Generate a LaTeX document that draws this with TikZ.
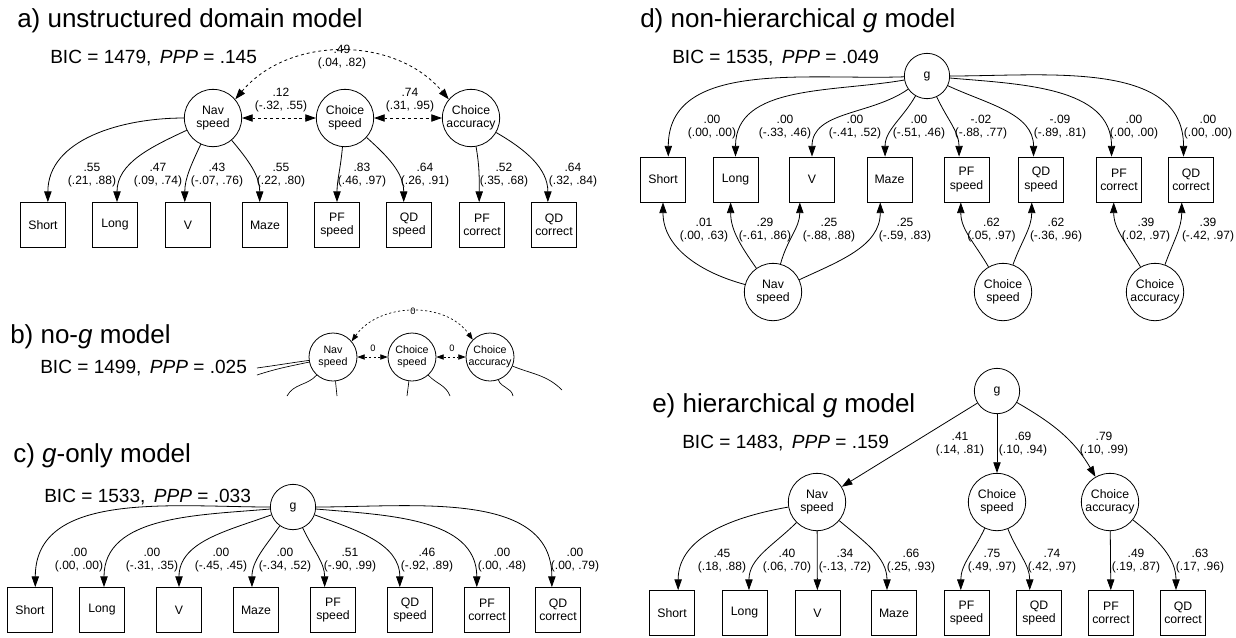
\documentclass[tikz,border=0pt]{standalone}
\usepackage{fontspec}
\setmainfont{Liberation Sans}
\usetikzlibrary{arrows.meta}

\begin{document}
\begin{tikzpicture}[x=0.75pt,y=-0.75pt,
	lat_node/.style={circle,draw,line width=0.6pt,minimum size=43pt,inner sep=0pt,align=center,font=\fontsize{9.2}{10}\selectfont},
	lat_small/.style={circle,draw,line width=0.6pt,minimum size=36pt,inner sep=0pt,align=center,font=\fontsize{8}{8.8}\selectfont},
	g_node/.style={circle,draw,line width=0.6pt,minimum size=34pt,inner sep=0pt,font=\fontsize{9.2}{10}\selectfont},
	obs_node/.style={rectangle,draw,line width=0.6pt,minimum width=33.75pt,minimum height=33.75pt,inner sep=0pt,align=center,font=\fontsize{9.2}{10}\selectfont},
	est_node/.style={align=center,inner sep=0pt,font=\fontsize{9}{10}\selectfont},
	zero_node/.style={inner sep=0pt,font=\fontsize{7}{8}\selectfont},
	title_node/.style={anchor=base west,inner sep=0pt,font=\fontsize{19.5}{22}\selectfont},
	fit_node/.style={anchor=base west,inner sep=0pt,font=\fontsize{14.3}{16}\selectfont},
	load_edge/.style={line width=0.6pt,-{Triangle[length=8pt,width=5.5pt]}},
	cov_edge/.style={line width=0.6pt,dash pattern=on 2.2pt off 2.2pt,{Triangle[length=8pt,width=5.5pt]}-{Triangle[length=8pt,width=5.5pt]}},
	cov_small/.style={line width=0.5pt,dash pattern=on 1.6pt off 1.8pt,{Triangle[length=5.5pt,width=4pt]}-{Triangle[length=5.5pt,width=4pt]}},
	cut_edge/.style={line width=0.5pt}]
	
	\useasboundingbox (0,0) rectangle (1236,637);
	
	% a) unstructured domain model
	\node[title_node] (aT) at (17,27) {a) unstructured domain model};
	\node[fit_node] (aF) at (50,63) {BIC = 1479, \,\textit{PPP} = .145};
	
	\node[lat_node] (aNav) at (213,118) {Nav\\speed};
	\node[lat_node] (aCs) at (345,118) {Choice\\speed};
	\node[lat_node] (aCa) at (471,118) {Choice\\accuracy};
	
	\node[obs_node] (a1) at (43,225) {Short};
	\node[obs_node] (a2) at (115,225) {Long};
	\node[obs_node] (a3) at (188,225) {V};
	\node[obs_node] (a4) at (265,225) {Maze};
	\node[obs_node] (a5) at (337,225) {PF\\speed};
	\node[obs_node] (a6) at (409,225) {QD\\speed};
	\node[obs_node] (a7) at (482,225) {PF\\correct};
	\node[obs_node] (a8) at (554,225) {QD\\correct};
	
	\draw[load_edge] (aNav) to[out=180,in=90] (a1.78);
	\draw[load_edge] (aNav) to[out=205,in=90] (a2.85);
	\draw[load_edge] (aNav) to[out=245,in=90] (a3.98);
	\draw[load_edge] (aNav) to[out=310,in=90] (a4.103);
	\draw[load_edge] (aCs) to[out=265,in=90] (a5.90);
	\draw[load_edge] (aCs) to[out=318,in=90] (a6.103);
	\draw[load_edge] (aCa) to[out=280,in=90] (a7.97);
	\draw[load_edge] (aCa) to[out=330,in=90] (a8.105);
	
	\draw[cov_edge] (aNav) -- (aCs);
	\draw[cov_edge] (aCs) -- (aCa);
	\draw[cov_edge] (aNav.40) to[out=50,in=130] (aCa.140);
	
	\node[est_node] (aL1) at (92,175) {.55\\(.21, .88)};
	\node[est_node] (aL2) at (158,175) {.47\\(.09, .74)};
	\node[est_node] (aL3) at (217,175) {.43\\(-.07, .76)};
	\node[est_node] (aL4) at (281,175) {.55\\(.22, .80)};
	\node[est_node] (aL5) at (362,175) {.83\\(.46, .97)};
	\node[est_node] (aL6) at (425,175) {.64\\(.26, .91)};
	\node[est_node] (aL7) at (504,175) {.52\\(.35, .68)};
	\node[est_node] (aL8) at (573,175) {.64\\(.32, .84)};
	\node[est_node] (aC1) at (281,100) {.12\\(-.32, .55)};
	\node[est_node] (aC2) at (410,100) {.74\\(.31, .95)};
	\node[est_node] (aC3) at (342,57) {.49\\(.04, .82)};
	
	% b) no-g model
	\node[title_node] (bT) at (10,343) {b) no-\textit{g} model};
	\node[fit_node] (bF) at (40,373) {BIC = 1499, \,\textit{PPP} = .025};
	
	\node[lat_small] (bNav) at (333,357) {Nav\\speed};
	\node[lat_small] (bCs) at (412,357) {Choice\\speed};
	\node[lat_small] (bCa) at (490,357) {Choice\\accuracy};
	
	\coordinate (bE1) at (257,368);
	\coordinate (bE2) at (257,375);
	\coordinate (bE3) at (287,396);
	\coordinate (bE4) at (337,396);
	\coordinate (bE5) at (407,396);
	\coordinate (bE6) at (450,396);
	\coordinate (bE7) at (513,396);
	\coordinate (bE8) at (562,390);
	
	\draw[cut_edge] (bNav) to[out=188,in=8] (bE1);
	\draw[cut_edge] (bNav) to[out=192,in=18] (bE2);
	\draw[cut_edge] (bNav) to[out=228,in=62] (bE3);
	\draw[cut_edge] (bNav) -- (bE4);
	\draw[cut_edge] (bCs) -- (bE5);
	\draw[cut_edge] (bCs) to[out=312,in=110] (bE6);
	\draw[cut_edge] (bCa) to[out=290,in=100] (bE7);
	\draw[cut_edge] (bCa) to[out=338,in=135] (bE8);
	
	\draw[cov_small] (bNav) -- (bCs);
	\draw[cov_small] (bCs) -- (bCa);
	\draw[cov_small] (bNav.40) to[out=55,in=125] (bCa.135);
	
	\node[zero_node] (bZ1) at (373,348) {0};
	\node[zero_node] (bZ2) at (452,348) {0};
	\node[zero_node] (bZ3) at (413,311) {0};
	
	% c) g-only model
	\node[title_node] (cT) at (13,462) {c) \textit{g}-only model};
	\node[fit_node] (cF) at (44,502) {BIC = 1533, \,\textit{PPP} = .033};
	
	\node[g_node] (cG) at (293,507) {g};
	
	\node[obs_node] (c1) at (30,610) {Short};
	\node[obs_node] (c2) at (102,610) {Long};
	\node[obs_node] (c3) at (179,610) {V};
	\node[obs_node] (c4) at (256,610) {Maze};
	\node[obs_node] (c5) at (333,610) {PF\\speed};
	\node[obs_node] (c6) at (410,610) {QD\\speed};
	\node[obs_node] (c7) at (487,610) {PF\\correct};
	\node[obs_node] (c8) at (558,610) {QD\\correct};
	
	\draw[load_edge] (cG) to[out=180,in=90] (c1.77);
	\draw[load_edge] (cG) to[out=185,in=90] (c2.85);
	\draw[load_edge] (cG) to[out=200,in=90] (c3.90);
	\draw[load_edge] (cG) to[out=235,in=90] (c4.100);
	\draw[load_edge] (cG) to[out=295,in=90] (c5.110);
	\draw[load_edge] (cG) to[out=340,in=90] (c6.114);
	\draw[load_edge] (cG) to[out=355,in=90] (c7.114);
	\draw[load_edge] (cG) to[out=0,in=90] (c8.105);
	
	\node[est_node] (cL1) at (79,560) {.00\\(.00, .00)};
	\node[est_node] (cL2) at (152,560) {.00\\(-.31, .35)};
	\node[est_node] (cL3) at (221,560) {.00\\(-.45, .45)};
	\node[est_node] (cL4) at (285,560) {.00\\(-.34, .52)};
	\node[est_node] (cL5) at (350,560) {.51\\(-.90, .99)};
	\node[est_node] (cL6) at (427,560) {.46\\(-.92, .89)};
	\node[est_node] (cL7) at (502,560) {.00\\(.00, .48)};
	\node[est_node] (cL8) at (575,560) {.00\\(.00, .79)};
	
	% d) non-hierarchical g model
	\node[title_node] (dT) at (640,27) {d) non-hierarchical \textit{g} model};
	\node[fit_node] (dF) at (672,63) {BIC = 1535, \,\textit{PPP} = .049};
	
	\node[g_node] (dG) at (927,76) {g};
	
	\node[obs_node] (d1) at (663,179.5) {Short};
	\node[obs_node] (d2) at (735.5,179.5) {Long};
	\node[obs_node] (d3) at (812,179.5) {V};
	\node[obs_node] (d4) at (889.5,179.5) {Maze};
	\node[obs_node] (d5) at (966.5,179.5) {PF\\speed};
	\node[obs_node] (d6) at (1041,179.5) {QD\\speed};
	\node[obs_node] (d7) at (1119,179.5) {PF\\correct};
	\node[obs_node] (d8) at (1191,179.5) {QD\\correct};
	
	\node[lat_node] (dNav) at (773,292) {Nav\\speed};
	\node[lat_node] (dCs) at (1003,292) {Choice\\speed};
	\node[lat_node] (dCa) at (1155,292) {Choice\\accuracy};
	
	\draw[load_edge] (dG) to[out=182,in=90] (d1.77);
	\draw[load_edge] (dG) to[out=190,in=90] (d2.90);
	\draw[load_edge] (dG) to[out=215,in=90] (d3.90);
	\draw[load_edge] (dG) to[out=240,in=90] (d4.101);
	\draw[load_edge] (dG) to[out=295,in=90] (d5.108);
	\draw[load_edge] (dG) to[out=335,in=90] (d6.108);
	\draw[load_edge] (dG) to[out=355,in=90] (d7.108);
	\draw[load_edge] (dG) to[out=0,in=90] (d8.108);
	
	\draw[load_edge] (dNav) to[out=165,in=270] (d1.270);
	\draw[load_edge] (dNav) to[out=125,in=270] (d2.258);
	\draw[load_edge] (dNav) to[out=75,in=270] (d3.242);
	\draw[load_edge] (dNav) to[out=25,in=270] (d4.248);
	\draw[load_edge] (dCs) to[out=120,in=270] (d5.256);
	\draw[load_edge] (dCs) to[out=70,in=270] (d6.248);
	\draw[load_edge] (dCa) to[out=120,in=270] (d7.257);
	\draw[load_edge] (dCa) to[out=70,in=270] (d8.248);
	
	\node[est_node] (dL1) at (712,127) {.00\\(.00, .00)};
	\node[est_node] (dL2) at (785,127) {.00\\(-.33, .46)};
	\node[est_node] (dL3) at (855,127) {.00\\(-.41, .52)};
	\node[est_node] (dL4) at (919,127) {.00\\(-.51, .46)};
	\node[est_node] (dL5) at (981,127) {-.02\\(-.88, .77)};
	\node[est_node] (dL6) at (1060,127) {-.09\\(-.89, .81)};
	\node[est_node] (dL7) at (1134,127) {.00\\(.00, .00)};
	\node[est_node] (dL8) at (1208,127) {.00\\(.00, .00)};
	\node[est_node] (dM1) at (704,230) {.01\\(.00, .63)};
	\node[est_node] (dM2) at (765,230) {.29\\(-.61, .86)};
	\node[est_node] (dM3) at (829,230) {.25\\(-.88, .88)};
	\node[est_node] (dM4) at (905,230) {.25\\(-.59, .83)};
	\node[est_node] (dM5) at (991.5,230) {.62\\(.05, .97)};
	\node[est_node] (dM6) at (1056,230) {.62\\(-.36, .96)};
	\node[est_node] (dM7) at (1146,230) {.39\\(.02, .97)};
	\node[est_node] (dM8) at (1208,230) {.39\\(-.42, .97)};
	
	% e) hierarchical g model
	\node[title_node] (eT) at (652,412) {e) hierarchical \textit{g} model};
	\node[fit_node] (eF) at (682,448) {BIC = 1483, \,\textit{PPP} = .159};
	
	\node[g_node] (eG) at (997,391) {g};
	
	\node[lat_node] (eNav) at (817,502) {Nav\\speed};
	\node[lat_node] (eCs) at (997,502) {Choice\\speed};
	\node[lat_node] (eCa) at (1110,502) {Choice\\accuracy};
	
	\node[obs_node] (e1) at (672,613) {Short};
	\node[obs_node] (e2) at (744.5,613) {Long};
	\node[obs_node] (e3) at (817.5,613) {V};
	\node[obs_node] (e4) at (894,613) {Maze};
	\node[obs_node] (e5) at (966.5,613) {PF\\speed};
	\node[obs_node] (e6) at (1039,613) {QD\\speed};
	\node[obs_node] (e7) at (1111,613) {PF\\correct};
	\node[obs_node] (e8) at (1183,613) {QD\\correct};
	
	\draw[load_edge] (eG) -- (eNav);
	\draw[load_edge] (eG) -- (eCs);
	\draw[load_edge] (eG) to[out=330,in=120] (eCa);
	
	\draw[load_edge] (eNav) to[out=190,in=90] (e1.75);
	\draw[load_edge] (eNav) to[out=225,in=90] (e2.79);
	\draw[load_edge] (eNav) -- (e3);
	\draw[load_edge] (eNav) to[out=320,in=90] (e4.107);
	\draw[load_edge] (eCs) to[out=245,in=90] (e5.104);
	\draw[load_edge] (eCs) to[out=292,in=90] (e6.112);
	\draw[load_edge] (eCa) -- (e7);
	\draw[load_edge] (eCa) to[out=322,in=90] (e8.107);
	
	\node[est_node] (eK1) at (960,444) {.41\\(.14, .81)};
	\node[est_node] (eK2) at (1023,444) {.69\\(.10, .94)};
	\node[est_node] (eK3) at (1104,444) {.79\\(.10, .99)};
	\node[est_node] (eL1) at (722,561) {.45\\(.18, .88)};
	\node[est_node] (eL2) at (787,561) {.40\\(.06, .70)};
	\node[est_node] (eL3) at (845,561) {.34\\(-.13, .72)};
	\node[est_node] (eL4) at (911,561) {.66\\(.25, .93)};
	\node[est_node] (eL5) at (992,561) {.75\\(.49, .97)};
	\node[est_node] (eL6) at (1052,561) {.74\\(.42, .97)};
	\node[est_node] (eL7) at (1136,561) {.49\\(.19, .87)};
	\node[est_node] (eL8) at (1200,561) {.63\\(.17, .96)};
\end{tikzpicture}
\end{document}
